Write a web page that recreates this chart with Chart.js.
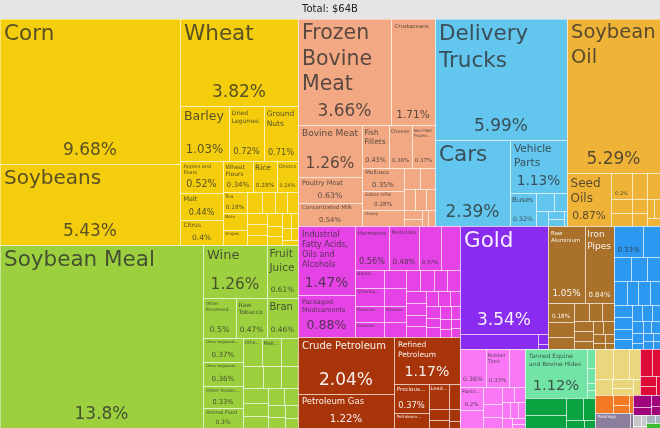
<!DOCTYPE html>
<html lang="en">
<head>
<meta charset="UTF-8">
<title>Export treemap</title>
<script src="https://cdn.jsdelivr.net/npm/chart.js@4.4.1/dist/chart.umd.min.js"></script>
<style>
    html, body { margin: 0; padding: 0; background: #e5e5e5; }
    canvas { display: block; }
</style>
</head>
<body>
<canvas id="tree" width="660" height="428"></canvas>
<script>
// share of total exports, in %. names: null = no label, '' = share only
const vegNames = ['Corn', 'Soybeans', 'Wheat', 'Barley', 'Dried Legumes', 'Ground Nuts', 'Apples and Pears', 'Malt', 'Citrus', 'Wheat Flours', 'Rice', 'Onions', 'Tea', 'Mate', 'Grapes'];
const vegValues = [9.68, 5.43, 3.82, 1.03, 0.72, 0.71, 0.52, 0.44, 0.4, 0.34, 0.28, 0.24, 0.18, 0.15, 0.13, 0.12, 0.1, 0.09, 0.09, 0.08, 0.08, 0.07, 0.07, 0.06, 0.05, 0.05, 0.04, 0.04, 0.03, 0.03];

const foodNames = ['Soybean Meal', 'Wine', 'Fruit Juice', 'Other Processed...', 'Raw Tobacco', 'Bran', 'Other Vegetable...', 'Other Vegetable...', 'Other Frozen...', 'Animal Food', 'Othe...', 'Malt...'];
const foodValues = [13.8, 1.26, 0.61, 0.5, 0.47, 0.46, 0.37, 0.36, 0.33, 0.3, 0.2, 0.19, 0.18, 0.17, 0.15, 0.14, 0.13, 0.12, 0.11, 0.1, 0.09, 0.08, 0.07, 0.06, 0.05];

const animalNames = ['Frozen Bovine Meat', 'Crustaceans', 'Bovine Meat', 'Poultry Meat', 'Concentrated Milk', 'Fish Fillets', 'Cheese', 'Non-fillet Frozen...', 'Molluscs', 'Edible Offal', 'Honey'];
const animalValues = [3.66, 1.71, 1.26, 0.63, 0.54, 0.43, 0.38, 0.37, 0.35, 0.28, 0.25, 0.13, 0.11, 0.09, 0.08, 0.07, 0.06, 0.05, 0.04, 0.04];

const transportNames = ['Delivery Trucks', 'Cars', 'Vehicle Parts', 'Buses'];
const transportValues = [5.99, 2.39, 1.13, 0.32, 0.12, 0.09, 0.07, 0.05, 0.04, 0.02];

const oilNames = ['Soybean Oil', 'Seed Oils', ''];
const oilValues = [5.29, 0.87, 0.2, 0.15, 0.13, 0.11, 0.1, 0.08, 0.07, 0.05, 0.04, 0.04];

const chemNames = ['Industrial Fatty Acids, Oils and Alcohols', 'Packaged Medicaments', 'Hormones', 'Pesticides', '', '', 'Blood...', 'Shaving...', 'Reaction...', 'Scented...', 'Vitamins'];
const chemValues = [1.47, 0.88, 0.56, 0.48, 0.37, 0.3, 0.2, 0.19, 0.17, 0.16, 0.13, 0.15, 0.14, 0.12, 0.11, 0.1, 0.1, 0.1, 0.09, 0.09, 0.08, 0.08, 0.07, 0.07, 0.06, 0.06, 0.05, 0.05, 0.05, 0.04, 0.04, 0.03, 0.03, 0.03];

const mineralNames = ['Crude Petroleum', 'Petroleum Gas', 'Refined Petroleum', 'Precious...', 'Petroleum...', 'Lead...'];
const mineralValues = [2.04, 1.22, 1.17, 0.37, 0.2, 0.18, 0.1, 0.08, 0.06, 0.05, 0.03];

const preciousNames = ['Gold'];
const preciousValues = [3.54, 0.46, 0.04, 0.02];

const metalNames = ['Raw Aluminium', 'Iron Pipes', ''];
const metalValues = [1.05, 0.84, 0.18, 0.14, 0.12, 0.1, 0.09, 0.08, 0.07, 0.07, 0.06, 0.05, 0.05, 0.04, 0.03, 0.03, 0.02];

const machineNames = ['', 'Valves...'];
const machineValues = [0.33, 0.2, 0.16, 0.14, 0.12, 0.11, 0.1, 0.1, 0.09, 0.08, 0.08, 0.07, 0.07, 0.06, 0.06, 0.05, 0.05, 0.04, 0.04, 0.04, 0.03, 0.03, 0.03, 0.02, 0.02];

const plasticNames = ['', 'Rubber Tires', null, 'Plastic...'];
const plasticValues = [0.36, 0.33, 0.22, 0.2, 0.15, 0.12, 0.09, 0.08, 0.07, 0.06, 0.05, 0.05, 0.04, 0.04, 0.03, 0.02];

const hideNames = ['Tanned Equine and Bovine Hides'];
const hideValues = [1.12, 0.05, 0.04, 0.02, 0.02];

const textileNames = [''];
const textileValues = [0.26, 0.2, 0.14, 0.1, 0.05, 0.03];

const paperNames = ['Sulfate...', 'Cellulose...'];
const paperValues = [0.2, 0.18, 0.12, 0.1, 0.07, 0.05, 0.04];

const woodValues = [0.12, 0.08, 0.06, 0.05, 0.03];
const stoneValues = [0.12, 0.06, 0.05, 0.03];
const artNames = ['Paintings'];
const artValues = [0.2, 0.02];
const instrumentValues = [0.08, 0.05, 0.04, 0.03];
const miscValues = [0.03, 0.02, 0.01];
const weaponValues = [0.03, 0.015];
const footwearValues = [0.025];

const DARK = 'rgba(45,45,45,0.78)';
const LIGHT = 'rgba(255,255,255,0.92)';
const FONT = '"DejaVu Sans", sans-serif';

const sectors = [
    { name: 'Vegetable Products', color: '#f4cd0c', text: DARK, names: vegNames, values: vegValues },
    { name: 'Foodstuffs', color: '#9dd03e', text: DARK, names: foodNames, values: foodValues },
    { name: 'Animal Products', color: '#f2a883', text: DARK, names: animalNames, values: animalValues },
    { name: 'Transportation', color: '#63c6ee', text: DARK, names: transportNames, values: transportValues },
    { name: 'Animal and Vegetable Bi-Products', color: '#efb338', text: DARK, names: oilNames, values: oilValues },
    { name: 'Chemical Products', color: '#e643e7', text: DARK, names: chemNames, values: chemValues },
    { name: 'Mineral Products', color: '#a83409', text: LIGHT, names: mineralNames, values: mineralValues },
    { name: 'Precious Metals', color: '#8a2cf0', text: LIGHT, names: preciousNames, values: preciousValues },
    { name: 'Metals', color: '#a9712a', text: LIGHT, names: metalNames, values: metalValues },
    { name: 'Machines', color: '#2c98f2', text: DARK, names: machineNames, values: machineValues },
    { name: 'Plastics and Rubbers', color: '#fa78f6', text: DARK, names: plasticNames, values: plasticValues },
    { name: 'Animal Hides', color: '#71e4a6', text: DARK, names: hideNames, values: hideValues },
    { name: 'Textiles', color: '#0aa241', text: LIGHT, names: textileNames, values: textileValues },
    { name: 'Paper Goods', color: '#ead67c', text: DARK, names: paperNames, values: paperValues },
    { name: 'Wood Products', color: '#df0b37', text: LIGHT, names: [], values: woodValues },
    { name: 'Stone and Glass', color: '#f37a23', text: DARK, names: [], values: stoneValues },
    { name: 'Arts and Antiques', color: '#8b7f9d', text: LIGHT, names: artNames, values: artValues },
    { name: 'Instruments', color: '#a0047a', text: LIGHT, names: [], values: instrumentValues },
    { name: 'Miscellaneous', color: '#c7c6c9', text: DARK, names: [], values: miscValues },
    { name: 'Weapons', color: '#a8b2bf', text: DARK, names: [], values: weaponValues },
    { name: 'Footwear and Headwear', color: '#3cba2e', text: DARK, names: [], values: footwearValues }
];

const byValue = (a, b) => b.value - a.value;
const groups = sectors.map(s => {
    const children = s.values.map((v, i) => ({ name: s.names[i], value: v, sector: s })).sort(byValue);
    return { sector: s, children, value: children.reduce((a, c) => a + c.value, 0) };
}).sort(byValue);

// squarified layout (golden ratio), same steps as d3.treemapSquarify
const PHI = (1 + Math.sqrt(5)) / 2;

function dice(row, value, x0, y0, x1, y1) {
    const k = value ? (x1 - x0) / value : 0;
    row.forEach(n => { n.y0 = y0; n.y1 = y1; n.x0 = x0; x0 += n.value * k; n.x1 = x0; });
}

function slice(row, value, x0, y0, x1, y1) {
    const k = value ? (y1 - y0) / value : 0;
    row.forEach(n => { n.x0 = x0; n.x1 = x1; n.y0 = y0; y0 += n.value * k; n.y1 = y0; });
}

function squarify(nodes, x0, y0, x1, y1) {
    let value = nodes.reduce((a, n) => a + n.value, 0);
    let i0 = 0, i1 = 0;
    const n = nodes.length;
    while (i0 < n) {
        const dx = x1 - x0, dy = y1 - y0;
        let sumValue = nodes[i1++].value;
        let minValue = sumValue, maxValue = sumValue;
        const alpha = Math.max(dy / dx, dx / dy) / (value * PHI);
        let beta = sumValue * sumValue * alpha;
        let minRatio = Math.max(maxValue / beta, beta / minValue);
        for (; i1 < n; ++i1) {
            const nodeValue = nodes[i1].value;
            sumValue += nodeValue;
            if (nodeValue < minValue) minValue = nodeValue;
            if (nodeValue > maxValue) maxValue = nodeValue;
            beta = sumValue * sumValue * alpha;
            const newRatio = Math.max(maxValue / beta, beta / minValue);
            if (newRatio > minRatio) { sumValue -= nodeValue; break; }
            minRatio = newRatio;
        }
        const row = nodes.slice(i0, i1);
        if (dx < dy) {
            const y = value ? y0 + dy * sumValue / value : y1;
            dice(row, sumValue, x0, y0, x1, y);
            y0 = y;
        } else {
            const x = value ? x0 + dx * sumValue / value : x1;
            slice(row, sumValue, x0, y0, x, y1);
            x0 = x;
        }
        value -= sumValue;
        i0 = i1;
    }
}

function wrap(ctx, text, size, maxW) {
    ctx.font = size + 'px ' + FONT;
    const lines = [];
    let cur = '';
    for (const word of text.split(' ')) {
        if (ctx.measureText(word).width > maxW) return null;
        const t = cur ? cur + ' ' + word : word;
        if (ctx.measureText(t).width <= maxW) cur = t;
        else { lines.push(cur); cur = word; }
    }
    lines.push(cur);
    return lines;
}

function drawLabel(ctx, leaf, x0, y0, x1, y1) {
    if (leaf.name == null) return;
    const w = x1 - x0, h = y1 - y0;
    if (w < 10 || h < 8) return;
    const pct = leaf.value + '%';
    ctx.fillStyle = leaf.sector.text;

    let p = 0;
    if (h >= 19) {
        ctx.font = '100px ' + FONT;
        const em = ctx.measureText(pct).width / 100;
        p = Math.min(17, w * 0.24, (w - 4) / em, h * 0.3);
        if (p < 5) p = 0;
    }
    const padX = Math.min(4, w * 0.08);
    const padTop = Math.min(4.5, h * 0.1);
    const pctBottom = p ? p * 0.3 + Math.min(4, h * 0.1) : 0;

    if (leaf.name) {
        const availH = h - padTop - (p ? p + pctBottom + Math.min(3, h * 0.05) : 1);
        const maxW = w - 2 * padX;
        const top = Math.min(21.5, Math.max(4, Math.floor(h * 0.25 * 2) / 2));
        for (let s = top; s >= 3.5; s -= 0.5) {
            const lines = wrap(ctx, leaf.name, s, maxW);
            if (!lines) continue;
            if ((lines.length - 1) * s * 1.25 + s > availH) continue;
            ctx.textAlign = 'left';
            ctx.textBaseline = 'top';
            lines.forEach((ln, i) => ctx.fillText(ln, x0 + padX, y0 + padTop + i * s * 1.25));
            break;
        }
    }
    if (p) {
        ctx.font = p + 'px ' + FONT;
        ctx.textAlign = 'center';
        ctx.textBaseline = 'alphabetic';
        ctx.fillText(pct, (x0 + x1) / 2, y1 - pctBottom);
    }
}

const treemapPlugin = {
    id: 'treemapCells',
    afterLayout(chart) {
        const a = chart.chartArea;
        const W = a.right - a.left, H = a.bottom - a.top;
        squarify(groups, 0, 0, W, H);
        groups.forEach(g => {
            squarify(g.children, g.x0, g.y0, g.x1, g.y1);
            // keep positions in scale units (0..1)
            g.children.forEach(c => {
                c.u0 = c.x0 / W; c.u1 = c.x1 / W;
                c.v0 = c.y0 / H; c.v1 = c.y1 / H;
            });
        });
    },
    beforeDatasetsDraw(chart) {
        const ctx = chart.ctx;
        const xs = chart.scales.x, ys = chart.scales.y;
        ctx.save();
        const cells = [];
        groups.forEach(g => g.children.forEach(c => {
            const x0 = Math.round(xs.getPixelForValue(c.u0));
            const x1 = Math.round(xs.getPixelForValue(c.u1));
            const y0 = Math.round(ys.getPixelForValue(c.v0));
            const y1 = Math.round(ys.getPixelForValue(c.v1));
            cells.push([c, x0, y0, x1, y1]);
            ctx.fillStyle = c.sector.color;
            ctx.fillRect(x0, y0, x1 - x0, y1 - y0);
        }));
        ctx.strokeStyle = 'rgba(255,255,255,0.45)';
        ctx.lineWidth = 1;
        cells.forEach(([c, x0, y0, x1, y1]) => {
            ctx.strokeRect(x0 + 0.5, y0 + 0.5, x1 - x0, y1 - y0);
        });
        cells.forEach(([c, x0, y0, x1, y1]) => drawLabel(ctx, c, x0, y0, x1, y1));
        ctx.restore();
    }
};

new Chart(document.getElementById('tree'), {
    type: 'scatter',
    data: { datasets: [{ data: [], pointRadius: 0 }] },
    options: {
        responsive: false,
        animation: false,
        events: [],
        layout: { padding: 0 },
        plugins: {
            legend: { display: false },
            tooltip: { enabled: false },
            title: {
                display: true,
                text: 'Total: $64B',
                color: '#222',
                font: { family: FONT, size: 10, weight: 'normal' },
                padding: { top: 3, bottom: 4 }
            }
        },
        scales: {
            x: { type: 'linear', min: 0, max: 1, display: false },
            y: { type: 'linear', min: 0, max: 1, reverse: true, display: false }
        }
    },
    plugins: [treemapPlugin]
});
</script>
</body>
</html>
